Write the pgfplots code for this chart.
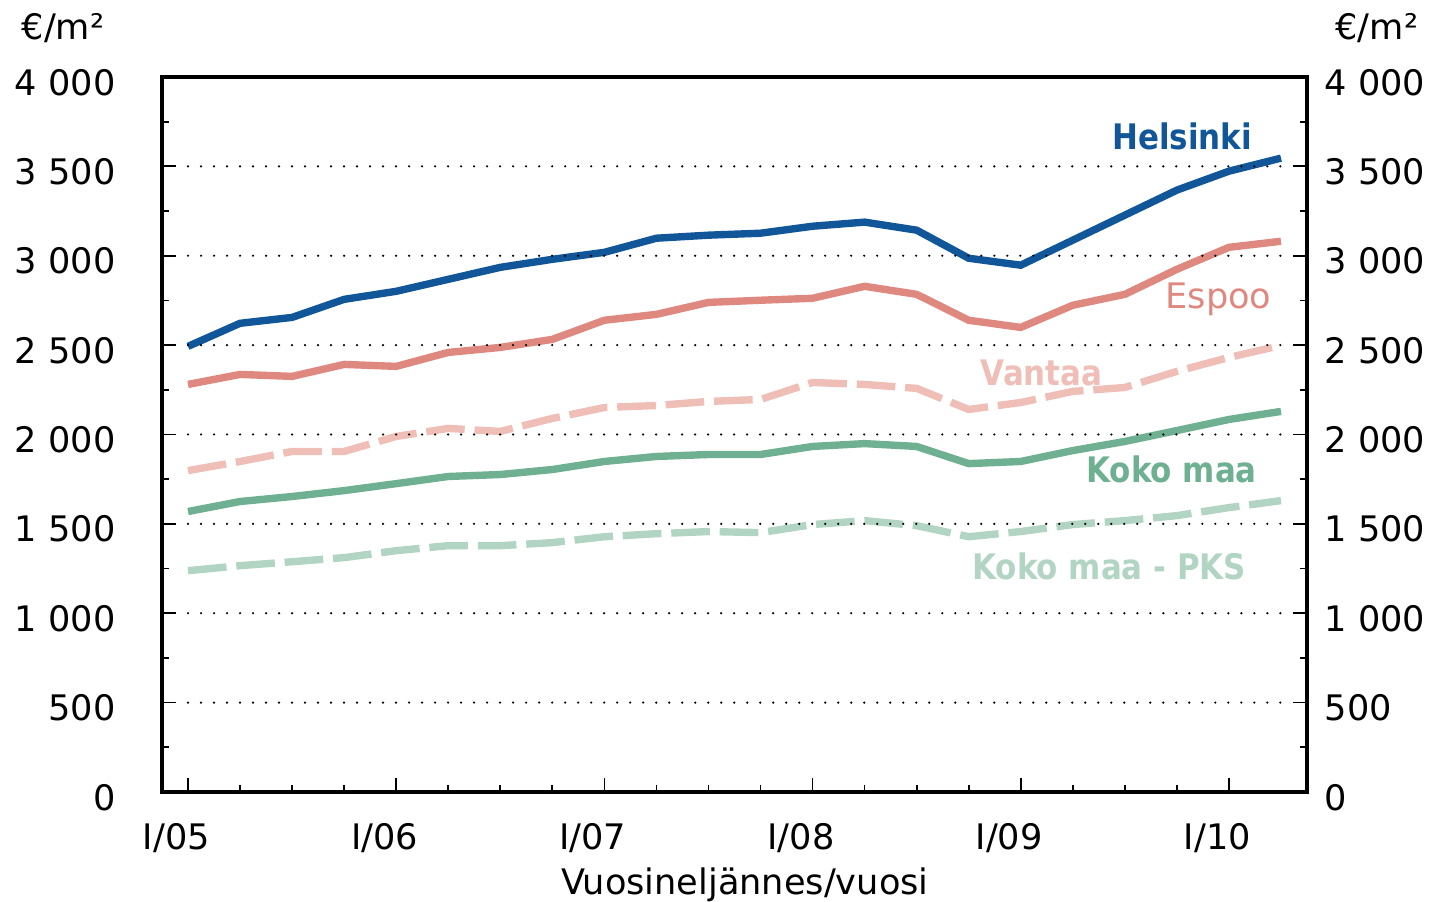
\documentclass[border=0pt]{standalone}
\usepackage{fontspec}
\setmainfont{DejaVu Sans}
\newfontfamily\lblfont[FakeStretch=0.88]{DejaVu Sans}
\usepackage{pgfplots}
\pgfplotsset{compat=1.18}

\definecolor{helblue}{RGB}{16,86,152}
\definecolor{espred}{RGB}{222,136,128}
\definecolor{vanpink}{RGB}{238,190,183}
\definecolor{kokogreen}{RGB}{110,176,145}
\definecolor{pksgreen}{RGB}{178,212,194}

% quarterly prices, I/05 .. II/10
\pgfplotstableread{
q  hel  esp  van  koko pks
0  2493 2280 1798 1569 1238
1  2622 2336 1849 1625 1266
2  2655 2325 1905 1653 1288
3  2756 2392 1905 1686 1311
4  2801 2381 1989 1725 1350
5  2868 2459 2034 1765 1378
6  2935 2487 2017 1776 1378
7  2980 2532 2090 1804 1395
8  3019 2639 2151 1849 1428
9  3098 2672 2162 1877 1445
10 3115 2739 2185 1888 1457
11 3126 2751 2196 1888 1451
12 3165 2762 2291 1933 1496
13 3188 2829 2280 1949 1518
14 3143 2784 2258 1933 1490
15 2986 2639 2140 1837 1428
16 2947 2599 2179 1849 1457
17 3087 2723 2241 1910 1496
18 3227 2784 2263 1961 1518
19 3367 2924 2353 2022 1546
20 3473 3047 2431 2084 1591
21 3546 3081 2498 2129 1630
}\prices

\begin{document}
\fontsize{10}{12}\selectfont
\begin{tikzpicture}
\pgfplotsset{base/.style={
  width=11.45cm, height=7.15cm, scale only axis,
  xmin=-0.5, xmax=21.5, ymin=0, ymax=4000,
  ytick={0,500,...,4000},
  scaled y ticks=false,
  /pgf/number format/assume math mode=true,
  /pgf/number format/1000 sep={\ },
  ticklabel style={font=\fontsize{10}{12}\selectfont},
}}
\begin{axis}[base, name=ax, clip=false,
  axis line style={line width=1.2pt},
  xtick={0,4,...,20},
  xticklabels={I/05,I/06,I/07,I/08,I/09,I/10},
  minor x tick num=3,
  minor ytick={250,750,...,3750},
  xtick pos=left,
  tick align=inside,
  major tick length=4pt, minor tick length=2pt,
  every tick/.style={black, line width=0.5pt},
  xticklabel style={yshift=-5.5pt, xshift=-3.3pt},
  yticklabel style={xshift=-9.7pt, yshift=-1.5pt},
  xlabel={Vuosineljännes/vuosi},
  xlabel style={at={(axis description cs:0.509,-0.13)}, anchor=center},
  every axis plot/.append style={line width=2.1pt, no markers},
]
\addplot[pksgreen, dash pattern=on 11pt off 2.8pt] table[x=q, y=pks] {\prices};
\addplot[kokogreen] table[x=q, y=koko] {\prices};
\addplot[vanpink, dash pattern=on 11pt off 2.8pt] table[x=q, y=van] {\prices};
\addplot[espred] table[x=q, y=esp] {\prices};
\addplot[helblue] table[x=q, y=hel] {\prices};

\pgfplotsinvokeforeach{500,1000,1500,2000,2500,3000,3500}{
  \draw[black, line width=0.7pt, line cap=round, dash pattern=on 0pt off 3.7pt]
    (axis cs:0,#1) -- (axis cs:21,#1);
}

\node[text=helblue, font=\lblfont\bfseries] at (axis cs:19.1,3669) {Helsinki};
\node[text=espred] at (axis cs:19.8,2756) {Espoo};
\node[text=vanpink, font=\lblfont\bfseries] at (axis cs:16.4,2347) {Vantaa};
\node[text=kokogreen, font=\lblfont\bfseries] at (axis cs:18.9,1804) {Koko maa};
\node[text=pksgreen, font=\lblfont\bfseries] at (axis cs:17.7,1260) {Koko maa - PKS};

\node at (axis description cs:-0.0865,1.0685) {€/m²};
\node at (axis description cs:1.061,1.0685) {€/m²};
\end{axis}
\begin{axis}[base,
  hide x axis,
  axis y line*=right,
  y axis line style={draw=none},
  ytick style={draw=none},
  yticklabel style={xshift=1.5pt, yshift=-1.5pt},
]
\end{axis}
\pgfresetboundingbox
\useasboundingbox ([shift={(-1.62cm,-1.10cm)}]ax.south west) rectangle ([shift={(1.24cm,0.77cm)}]ax.north east);
\end{tikzpicture}
\end{document}
